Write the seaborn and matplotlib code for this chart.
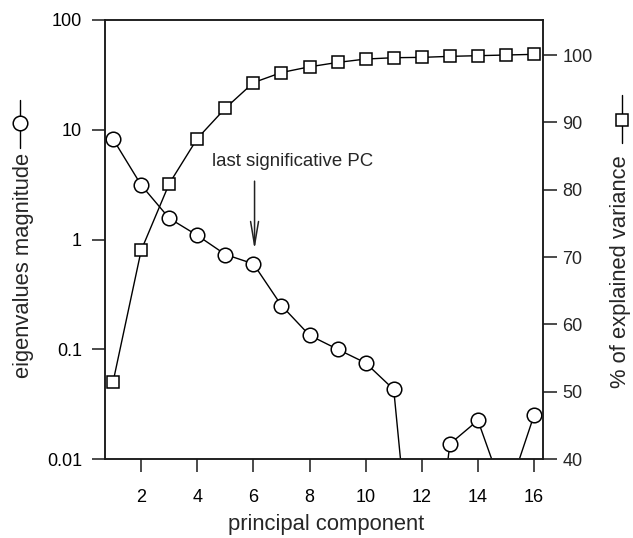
import matplotlib
matplotlib.use("Agg")
import matplotlib.pyplot as plt
import seaborn as sns
import numpy as np

# ---- data ----
pc = [1, 2, 3, 4, 5, 6, 7, 8, 9, 10, 11, 12, 13, 14, 15, 16]
eigenvalues = [8.2, 3.13, 1.56, 1.09, 0.73, 0.60, 0.25, 0.134, 0.10, 0.075,
               0.043, 0.0001, 0.0137, 0.0225, 0.0043, 0.025]
explained_variance = [51.5, 71.0, 80.9, 87.6, 92.1, 95.9, 97.4, 98.25, 98.9,
                      99.4, 99.6, 99.65, 99.8, 99.9, 100.0, 100.1]
x_ticks = [2, 4, 6, 8, 10, 12, 14, 16]
left_ticks = [0.01, 0.1, 1, 10, 100]
left_tick_labels = ["0.01", "0.1", "1", "10", "100"]
right_ticks = [40, 50, 60, 70, 80, 90, 100]
annotation_text = "last significative PC"
annotated_pc = 6

sns.set_style("ticks")
plt.rcParams["font.family"] = ["Liberation Sans", "DejaVu Sans"]

W, H = 633, 538
fig = plt.figure(figsize=(W / 100, H / 100), dpi=100)
ax = fig.add_axes([105 / W, (H - 459) / H, 438 / W, 439 / H])
ax.set_yscale("log")

line_kw = dict(color="black", linewidth=1.0, markeredgecolor="black",
               markerfacecolor="white", markeredgewidth=1.1)
marker_kw = {k: v for k, v in line_kw.items() if k != "linewidth"}
sns.lineplot(x=pc, y=eigenvalues, ax=ax, marker="o", markersize=10.5, **line_kw)

ax.set_xlim(0.71, 16.32)
ax.set_ylim(0.01, 100)
ax.set_xticks(x_ticks)
ax.set_xticklabels([str(t) for t in x_ticks])
ax.set_yticks(left_ticks)
ax.set_yticklabels(left_tick_labels)
ax.yaxis.set_minor_locator(matplotlib.ticker.NullLocator())

ax2 = ax.twinx()
sns.lineplot(x=pc, y=explained_variance, ax=ax2, marker="s", markersize=9.2, **line_kw)
ax2.set_ylim(40, 105.2)
ax2.set_yticks(right_ticks)
ax2.set_yticklabels([str(t) for t in right_ticks])

spine_col = "#1a1a1a"
for a in (ax, ax2):
    for s in a.spines.values():
        s.set_visible(True)
        s.set_linewidth(1.1)
        s.set_color(spine_col)
ax.tick_params(axis="both", which="major", direction="out", length=9.5, width=1.1,
               color=spine_col, labelsize=13, labelcolor="black")
ax.tick_params(axis="y", pad=7, right=False)
ax.tick_params(axis="x", pad=12, top=False)
ax2.tick_params(axis="y", direction="out", length=10, width=1.1, color=spine_col,
                labelsize=13, pad=4, left=False)

label_size = 15.8
# axis labels
ax.set_xlabel("principal component", fontsize=label_size)
ax.xaxis.set_label_coords(0.505, -0.125)
ax.xaxis.label.set_verticalalignment("top")

ax.set_ylabel("eigenvalues magnitude", fontsize=label_size)
ax.yaxis.set_label_coords(-0.185, 0.44)
ax.yaxis.label.set_verticalalignment("center")

ax2.set_ylabel("% of explained variance", fontsize=label_size)
ax2.yaxis.set_label_coords(1.177, 0.427)
ax2.yaxis.label.set_verticalalignment("center")
ax2.yaxis.label.set_rotation(90)

# label glyphs (line + marker) next to the axis titles
ax.plot([-0.194, -0.194], [0.709, 0.818], transform=ax.transAxes, clip_on=False,
        color="black", linewidth=1.0)
ax.plot([-0.194], [0.766], transform=ax.transAxes, clip_on=False, marker="o",
        markersize=10.5, **marker_kw)
ax2.plot([1.18, 1.18], [0.72, 0.829], transform=ax2.transAxes, clip_on=False,
         color="black", linewidth=1.0)
ax2.plot([1.18], [0.772], transform=ax2.transAxes, clip_on=False, marker="s",
         markersize=9.2, **marker_kw)

# annotation
ax.annotate("", xy=(annotated_pc + 0.04, 0.81), xytext=(annotated_pc + 0.04, 3.4),
            arrowprops=dict(arrowstyle="->,head_length=1.3,head_width=0.22",
                            color="#222222", linewidth=1.1, shrinkA=0, shrinkB=0,
                            mutation_scale=13))
ax.text(7.4, 5.1, annotation_text, ha="center", va="center", fontsize=13.4)

fig.savefig("out.png", dpi=100)
